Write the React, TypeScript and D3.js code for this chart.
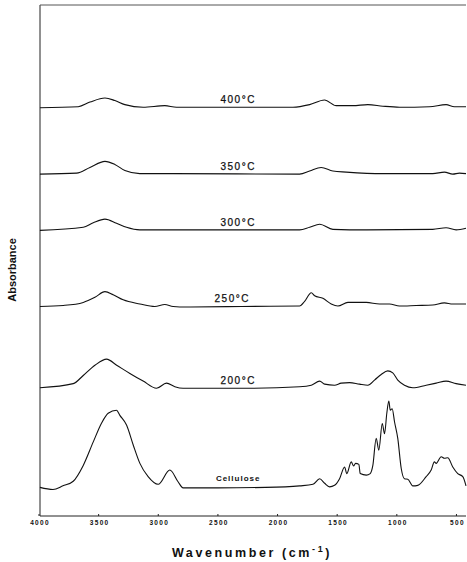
//@ts-nocheck
import React, {useEffect, useRef} from 'react';
import * as d3 from 'd3';

// spectra: [wavenumber (cm-1), absorbance above own baseline]
const cellulose = [
    [3992, 0.01], [3883, -0.03], [3799, 0.04], [3713, 0.13], [3629, 0.44], [3545, 0.90],
    [3475, 1.27], [3420, 1.46], [3350, 1.52], [3322, 1.42], [3266, 1.23], [3210, 0.84],
    [3154, 0.48], [3085, 0.22], [3001, 0.07], [2903, 0.35], [2834, 0.12], [2792, 0.0],
    [2500, 0.0], [2100, 0.01], [1815, 0.04], [1703, 0.07], [1647, 0.18], [1605, 0.09],
    [1564, 0.02], [1522, 0.05], [1480, 0.18], [1438, 0.41], [1419, 0.28], [1382, 0.51],
    [1363, 0.43], [1346, 0.48], [1318, 0.46], [1307, 0.28], [1256, 0.25], [1223, 0.28],
    [1201, 0.44], [1173, 0.97], [1151, 0.74], [1122, 1.26], [1103, 1.06], [1084, 1.46],
    [1067, 1.70], [1055, 1.52], [1039, 1.55], [1019, 1.29], [992, 0.97], [963, 0.38],
    [936, 0.18], [908, 0.17], [866, 0.04], [824, 0.05], [754, 0.22], [712, 0.35],
    [685, 0.51], [670, 0.48], [628, 0.61], [601, 0.58], [573, 0.59], [531, 0.41],
    [489, 0.28], [447, 0.22], [420, 0.04]
];
const t200 = [
    [3992, 0.01], [3713, 0.09], [3629, 0.25], [3531, 0.45], [3433, 0.57], [3349, 0.45],
    [3238, 0.29], [3127, 0.14], [3015, 0.0], [2931, 0.10], [2861, 0.03], [2792, 0.0],
    [2300, 0.0], [1815, 0.03], [1717, 0.06], [1647, 0.14], [1605, 0.08], [1522, 0.06],
    [1466, 0.10], [1396, 0.11], [1313, 0.08], [1243, 0.06], [1187, 0.16], [1131, 0.27],
    [1076, 0.34], [1034, 0.30], [992, 0.16], [936, 0.06], [866, 0.01], [754, 0.06],
    [670, 0.10], [587, 0.14], [503, 0.09], [420, 0.06]
];
const t250 = [
    [3992, 0.0], [3797, 0.02], [3629, 0.08], [3531, 0.18], [3447, 0.29], [3378, 0.23],
    [3294, 0.13], [3154, 0.05], [3029, 0.0], [2945, 0.04], [2876, 0.0], [2763, -0.01],
    [2300, 0.0], [1815, 0.01], [1773, 0.10], [1717, 0.27], [1689, 0.21], [1620, 0.16],
    [1550, 0.05], [1494, 0.01], [1410, 0.08], [1256, 0.08], [1145, 0.05], [1061, 0.05],
    [978, 0.01], [838, 0.02], [699, 0.03], [601, 0.07], [531, 0.05], [420, 0.05]
];
const t300 = [
    [3992, -0.01], [3629, 0.05], [3545, 0.14], [3447, 0.21], [3350, 0.13], [3266, 0.05],
    [3155, 0.0], [2500, 0.0], [1815, 0.0], [1731, 0.05], [1647, 0.11], [1536, 0.01],
    [1256, 0.0], [699, 0.01], [587, 0.04], [503, 0.0], [420, 0.03]
];
const t350 = [
    [3992, -0.01], [3685, 0.01], [3573, 0.12], [3447, 0.24], [3364, 0.18], [3280, 0.06],
    [3155, 0.0], [2875, 0.0], [1815, -0.01], [1731, 0.05], [1634, 0.12], [1536, 0.05],
    [1424, 0.03], [1117, 0.0], [699, 0.0], [601, 0.03], [531, -0.01], [475, 0.01], [420, 0.0]
];
const t400 = [
    [3992, -0.01], [3671, 0.01], [3573, 0.10], [3447, 0.18], [3364, 0.13], [3280, 0.05],
    [3127, 0.0], [2945, 0.03], [2847, 0.0], [1871, 0.0], [1731, 0.05], [1606, 0.14],
    [1508, 0.03], [1369, 0.03], [1243, 0.05], [1117, 0.02], [978, 0.0], [726, 0.01],
    [587, 0.05], [517, 0.01], [420, 0.01]
];

const seriesData = [cellulose, t200, t250, t300, t350, t400];
const seriesNames = ['Cellulose', '200°C', '250°C', '300°C', '350°C', '400°C'];
const seriesOffsets = [0.55, 2.5, 4.1, 5.6, 6.7, 8.0];

const xTicks = [4000, 3500, 3000, 2500, 2000, 1500, 1000, 500];

const FONT = 'Liberation Sans, Arial, sans-serif';

const App = () => {
    const svgRef = useRef(null);

    useEffect(() => {
        const svg = d3.select(svgRef.current);
        svg.selectAll('*').remove();

        const left = 39, right = 466, top = 5, bottom = 516;

        const x = d3.scaleLinear().domain([4000, 420]).range([left, right]);
        const y = d3.scaleLinear().domain([0, 10]).range([bottom, top]);

        // frame: left + top, bottom axis
        svg.append('line')
            .attr('x1', left + 1).attr('x2', left + 1)
            .attr('y1', top).attr('y2', bottom)
            .attr('stroke', '#222').attr('stroke-width', 1);
        svg.append('line')
            .attr('x1', left + 1).attr('x2', right)
            .attr('y1', top).attr('y2', top)
            .attr('stroke', '#555').attr('stroke-width', 1);

        const axisG = svg.append('g')
            .attr('transform', 'translate(0,' + bottom + ')');
        axisG.append('line')
            .attr('x1', left + 1).attr('x2', right)
            .attr('stroke', '#222').attr('stroke-width', 1);
        axisG.selectAll('line.tick')
            .data(xTicks)
            .enter().append('line')
            .attr('class', 'tick')
            .attr('x1', d => x(d)).attr('x2', d => x(d))
            .attr('y1', 0).attr('y2', -2)
            .attr('stroke', '#222');
        axisG.selectAll('text')
            .data(xTicks)
            .enter().append('text')
            .attr('x', d => x(d) + 1)
            .attr('y', 9)
            .attr('text-anchor', 'middle')
            .attr('font-family', FONT)
            .attr('font-weight', 'bold')
            .attr('font-size', '6.5px')
            .attr('letter-spacing', '1.3px')
            .attr('fill', '#111')
            .text(d => d);

        // pixel x grows along each series, so monotoneX keeps flat runs flat
        const line = d3.line()
            .x(d => x(d[0]))
            .y(d => d[1])
            .curve(d3.curveMonotoneX);

        seriesData.forEach(function (s, i) {
            const pts = s.map(p => [p[0], y(seriesOffsets[i] + p[1])]);
            svg.append('path')
                .attr('d', line(pts))
                .attr('fill', 'none')
                .attr('stroke', '#111')
                .attr('stroke-width', 1.1)
                .attr('stroke-linejoin', 'round');
        });

        svg.selectAll('text.label')
            .data(seriesNames)
            .enter().append('text')
            .attr('class', 'label')
            .attr('x', (d, i) => x(i === 2 ? 2380 : 2330))
            .attr('y', (d, i) => y(seriesOffsets[i]) - (i === 0 ? 7 : 4))
            .attr('text-anchor', 'middle')
            .attr('font-family', FONT)
            .attr('font-size', (d, i) => i === 0 ? '8px' : '10px')
            .attr('font-weight', (d, i) => i === 0 ? 'bold' : 'normal')
            .attr('letter-spacing', (d, i) => i === 0 ? '1px' : '1.5px')
            .attr('fill', '#111')
            .attr('stroke', '#111')
            .attr('stroke-width', (d, i) => i === 0 ? 0 : 0.25)
            .text(d => d);

        svg.append('text')
            .attr('transform', 'translate(16,270)rotate(-90)')
            .attr('text-anchor', 'middle')
            .attr('font-family', FONT)
            .attr('font-weight', 'bold')
            .attr('font-size', '11px')
            .attr('fill', '#111')
            .text('Absorbance');

        const title = svg.append('text')
            .attr('x', 252)
            .attr('y', 557)
            .attr('text-anchor', 'middle')
            .attr('font-family', FONT)
            .attr('font-weight', 'bold')
            .attr('font-size', '12.5px')
            .attr('letter-spacing', '2.6px')
            .attr('fill', '#111');
        title.append('tspan').text('Wavenumber (cm');
        title.append('tspan').attr('dy', -5).attr('font-size', '9px').text('-1');
        title.append('tspan').attr('dy', 5).text(')');
    }, []);

    return (
        <svg ref={svgRef} width={467} height={562}
             style={{position: 'absolute', left: 0, top: 0, background: '#fff'}}/>
    );
};

export default App;
